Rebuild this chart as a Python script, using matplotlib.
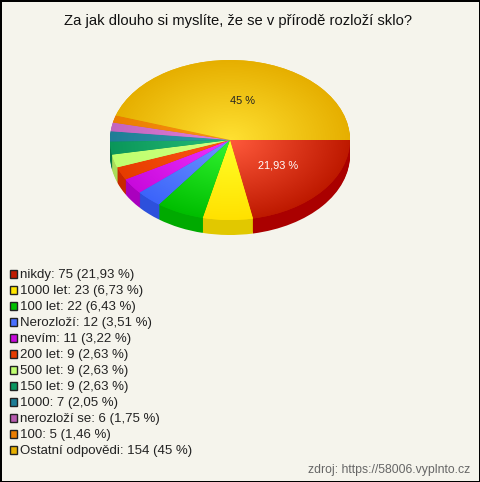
import numpy as np
import matplotlib
matplotlib.use('Agg')
import matplotlib.pyplot as plt
from matplotlib.patches import Rectangle

plt.rcParams['font.family'] = ['Liberation Sans', 'DejaVu Sans']

title = 'Za jak dlouho si myslíte, že se v přírodě rozloží sklo?'
names = ['nikdy', '1000 let', '100 let', 'Nerozloží', 'nevím', '200 let',
         '500 let', '150 let', '1000', 'nerozloží se', '100', 'Ostatní odpovědi']
counts = [75, 23, 22, 12, 11, 9, 9, 9, 7, 6, 5, 154]
percents = ['21,93', '6,73', '6,43', '3,51', '3,22', '2,63',
            '2,63', '2,63', '2,05', '1,75', '1,46', '45']

# light (middle of pie), dark (rim), side wall, legend box
light = ['#ff5a3c', '#ffff28', '#32f532', '#6e96ff', '#f032ff', '#ff5a14',
         '#d2ff82', '#28be78', '#32a0aa', '#e182dc', '#fa9614', '#ffe132']
dark = ['#be1900', '#ffe100', '#00be00', '#3c64fa', '#c80adc', '#e63c00',
        '#beff6e', '#0a965a', '#1e7d96', '#c364be', '#eb7d00', '#e6af00']
side = ['#aa0000', '#e1c800', '#00aa00', '#2d50dc', '#aa00be', '#c82800',
        '#aadc5a', '#057846', '#145f78', '#a0509b', '#c86400', '#b48c00']
legend_box = ['#c01a00', '#ffe600', '#00c000', '#4a70ff', '#c80adc', '#e63c00',
              '#c0ff70', '#0a9660', '#1e7d96', '#b85cb0', '#eb7d00', '#e6af00']

W, H = 480, 482
CX, CY, RX, RY = 230, 140, 120, 80
DEPTH = 15
BG = '#f5f4ec'


def fx(x):
    return x / W


def fy(y):
    return 1 - y / H


def to_rgb_array(c):
    return np.array(matplotlib.colors.to_rgb(c))


fig = plt.figure(figsize=(W / 100, H / 100), dpi=100, facecolor=BG,
                 edgecolor='black', linewidth=2)
ax = fig.add_axes([0, 0, 1, 1])

# side wall: same pie stacked downwards one pixel at a time
for d in range(DEPTH, 0, -1):
    ax.pie(counts, colors=side, startangle=0, counterclock=False,
           center=(0, -d / RY), radius=1, wedgeprops=dict(linewidth=0))

top, _ = ax.pie(counts, colors=dark, startangle=0, counterclock=False,
                radius=1, wedgeprops=dict(linewidth=0))

# radial shading on the top face
gx, gy = np.meshgrid(np.linspace(-1, 1, 300), np.linspace(-1, 1, 300))
r = np.clip(np.hypot(gx, gy), 0, 1)[..., None]
for wedge, c0, c1 in zip(top, light, dark):
    img = to_rgb_array(c0) * (1 - r) + to_rgb_array(c1) * r
    im = ax.imshow(img, extent=(-1, 1, -1, 1), origin='lower', aspect='auto', zorder=3)
    im.set_clip_path(wedge)

ax.set_aspect('auto')
ax.set_xlim(-CX / RX, (W - CX) / RX)
ax.set_ylim((CY - H) / RY, CY / RY)
ax.axis('off')

fig.text(fx(238), fy(21.5), title, ha='center', va='center', fontsize=10.6, color='#111111')
fig.text(fx(278.5), fy(165), percents[0] + ' %', ha='center', va='center', fontsize=7.9, color='white')
fig.text(fx(243), fy(100.5), percents[-1] + ' %', ha='center', va='center', fontsize=7.9, color='#222222')

# legend
for i, (n, c, p) in enumerate(zip(names, counts, percents)):
    y = 274 + i * 16
    fig.add_artist(Rectangle((fx(9.5), fy(y + 3.5)), 7 / W, 7.5 / H, transform=fig.transFigure,
                             facecolor=legend_box[i], edgecolor='#222222', linewidth=1))
    fig.text(fx(20), fy(y + 1), f'{n}: {c} ({p} %)', ha='left', va='center', fontsize=9.5, color='#222222')

fig.text(fx(470), fy(470.5), 'zdroj: https://58006.vyplnto.cz', ha='right', va='center',
         fontsize=8.8, color='#666666')

fig.savefig('out.png', dpi=100)
